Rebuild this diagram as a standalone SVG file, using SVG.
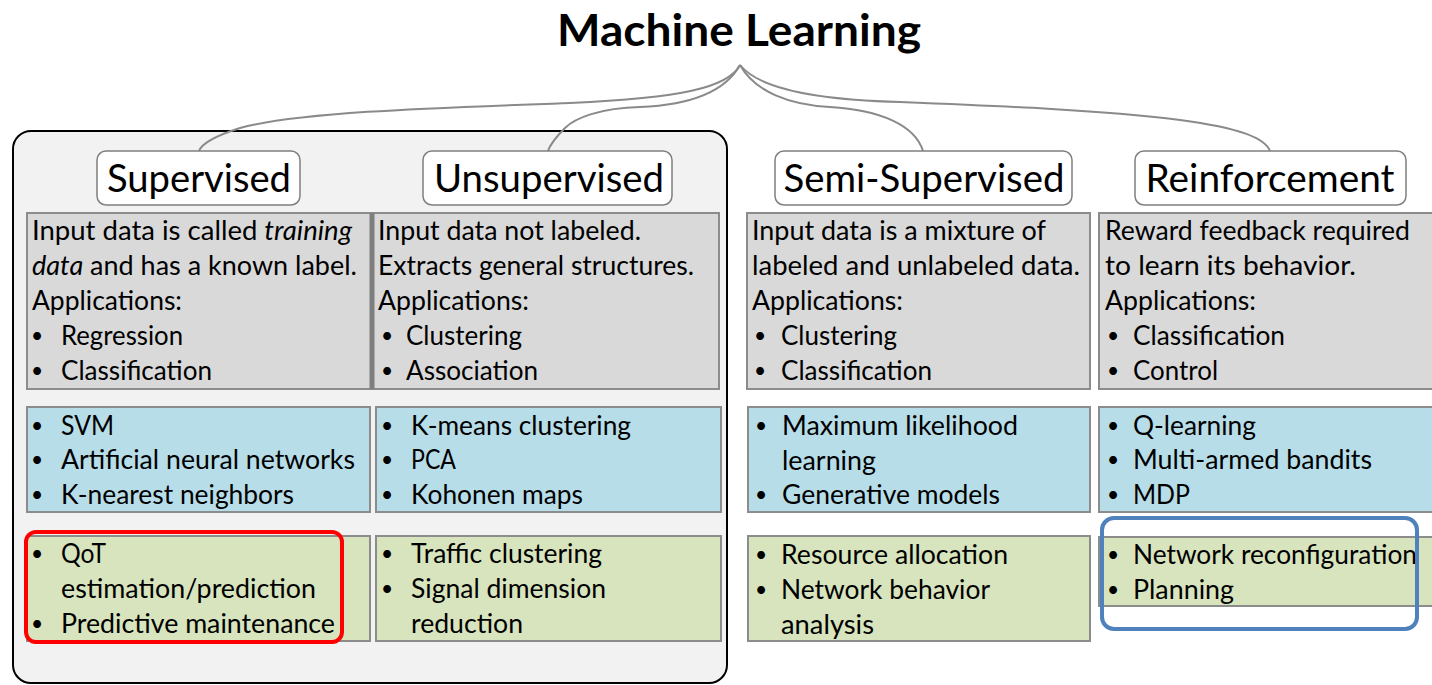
<svg xmlns="http://www.w3.org/2000/svg" width="1432" height="685" viewBox="0 0 1432 685">
<style>
text{font-family:Lato,"Open Sans","Liberation Sans",sans-serif;fill:#000}
.title{font-size:44px;font-weight:bold}
.cat{font-size:38px}
.t{font-size:27px}
.b{font-size:21px}
.catbox{fill:#fff;stroke:#7f7f7f;stroke-width:1.5}
.gray{fill:#d9d9d9;stroke:#8c8c8c;stroke-width:2}
.blue{fill:#b7dde8;stroke:#8c8c8c;stroke-width:2}
.green{fill:#d7e4bd;stroke:#8c8c8c;stroke-width:2}
.conn{fill:none;stroke:#8a8a8a;stroke-width:2}
</style>
<rect width="1432" height="685" fill="#fff"/>
<g id="container">
<rect x="13" y="131" width="714" height="552" rx="18" fill="#f2f2f2" stroke="#000" stroke-width="2"/>
</g>
<g id="connectors">
<path class="conn" d="M740,65 C728,88 680,98 570,103 C430,108 300,112 240,128 C215,136 202,143 199,151"/>
<path class="conn" d="M740,65 C725,92 690,105 640,107 C600,108 575,118 565,128 C555,138 550,145 548,151"/>
<path class="conn" d="M740,65 C755,92 790,105 830,107 C880,110 915,125 923,151"/>
<path class="conn" d="M740,65 C760,90 820,100 900,102 C1000,106 1100,110 1180,120 C1240,128 1265,138 1270,151"/>
</g>
<g id="title">
<text class="title" x="739" y="46" text-anchor="middle" textLength="364" lengthAdjust="spacingAndGlyphs">Machine Learning</text>
</g>
<g id="supervised">
<rect class="catbox" x="97" y="151" width="203" height="54" rx="9"/>
<text class="cat" x="199" y="192" text-anchor="middle" textLength="184" lengthAdjust="spacingAndGlyphs">Supervised</text>
</g>
<g id="unsupervised">
<rect class="catbox" x="423" y="151" width="249" height="54" rx="9"/>
<text class="cat" x="549" y="192" text-anchor="middle" textLength="230" lengthAdjust="spacingAndGlyphs">Unsupervised</text>
</g>
<g id="semi-supervised">
<rect class="catbox" x="775" y="151" width="297" height="54" rx="9"/>
<text class="cat" x="924" y="192" text-anchor="middle" textLength="281" lengthAdjust="spacingAndGlyphs">Semi-Supervised</text>
</g>
<g id="reinforcement">
<rect class="catbox" x="1135" y="151" width="271" height="54" rx="9"/>
<text class="cat" x="1270" y="192" text-anchor="middle" textLength="249" lengthAdjust="spacingAndGlyphs">Reinforcement</text>
</g>

<g id="sup-desc">
<rect class="gray" x="27" y="213" width="344" height="176"/>
<text class="t" x="32" y="240" textLength="320" lengthAdjust="spacingAndGlyphs">Input data is called <tspan font-style="italic">training</tspan></text>
<text class="t" x="32" y="275" textLength="325" lengthAdjust="spacingAndGlyphs"><tspan font-style="italic">data</tspan> and has a known label.</text>
<text class="t" x="32" y="310" textLength="150" lengthAdjust="spacingAndGlyphs">Applications:</text>
<text class="b" x="31" y="343">•</text><text class="t" x="61" y="345" textLength="122" lengthAdjust="spacingAndGlyphs">Regression</text>
<text class="b" x="31" y="378">•</text><text class="t" x="61" y="380" textLength="151" lengthAdjust="spacingAndGlyphs">Classification</text>
</g>
<g id="unsup-desc">
<rect class="gray" x="373" y="213" width="346" height="176"/>
<line x1="372" y1="213" x2="372" y2="389" stroke="#7f7f7f" stroke-width="5"/>
<text class="t" x="378" y="240" textLength="263" lengthAdjust="spacingAndGlyphs">Input data not labeled.</text>
<text class="t" x="378" y="275" textLength="316" lengthAdjust="spacingAndGlyphs">Extracts general structures.</text>
<text class="t" x="378" y="310" textLength="151" lengthAdjust="spacingAndGlyphs">Applications:</text>
<text class="b" x="381" y="343">•</text><text class="t" x="406" y="345" textLength="116" lengthAdjust="spacingAndGlyphs">Clustering</text>
<text class="b" x="381" y="378">•</text><text class="t" x="406" y="380" textLength="132" lengthAdjust="spacingAndGlyphs">Association</text>
</g>
<g id="semi-desc">
<rect class="gray" x="747" y="213" width="343" height="176"/>
<text class="t" x="752" y="240" textLength="294" lengthAdjust="spacingAndGlyphs">Input data is a mixture of</text>
<text class="t" x="752" y="275" textLength="328" lengthAdjust="spacingAndGlyphs">labeled and unlabeled data.</text>
<text class="t" x="752" y="310" textLength="151" lengthAdjust="spacingAndGlyphs">Applications:</text>
<text class="b" x="754" y="343">•</text><text class="t" x="781" y="345" textLength="116" lengthAdjust="spacingAndGlyphs">Clustering</text>
<text class="b" x="754" y="378">•</text><text class="t" x="781" y="380" textLength="151" lengthAdjust="spacingAndGlyphs">Classification</text>
</g>
<g id="reinf-desc">
<rect class="gray" x="1099" y="213" width="345" height="176"/>
<text class="t" x="1105" y="240" textLength="305" lengthAdjust="spacingAndGlyphs">Reward feedback required</text>
<text class="t" x="1105" y="275" textLength="251" lengthAdjust="spacingAndGlyphs">to learn its behavior.</text>
<text class="t" x="1105" y="310" textLength="151" lengthAdjust="spacingAndGlyphs">Applications:</text>
<text class="b" x="1107" y="343">•</text><text class="t" x="1133" y="345" textLength="152" lengthAdjust="spacingAndGlyphs">Classification</text>
<text class="b" x="1107" y="378">•</text><text class="t" x="1133" y="380" textLength="85" lengthAdjust="spacingAndGlyphs">Control</text>
</g>

<g id="sup-algos">
<rect class="blue" x="27" y="407" width="343" height="105"/>
<text class="b" x="31" y="433">•</text><text class="t" x="61" y="435" textLength="53" lengthAdjust="spacingAndGlyphs">SVM</text>
<text class="b" x="31" y="467">•</text><text class="t" x="61" y="469" textLength="294" lengthAdjust="spacingAndGlyphs">Artificial neural networks</text>
<text class="b" x="31" y="502">•</text><text class="t" x="61" y="504" textLength="233" lengthAdjust="spacingAndGlyphs">K-nearest neighbors</text>
</g>
<g id="unsup-algos">
<rect class="blue" x="376" y="407" width="345" height="105"/>
<text class="b" x="381" y="433">•</text><text class="t" x="411" y="435" textLength="220" lengthAdjust="spacingAndGlyphs">K-means clustering</text>
<text class="b" x="381" y="467">•</text><text class="t" x="411" y="469" textLength="45" lengthAdjust="spacingAndGlyphs">PCA</text>
<text class="b" x="381" y="502">•</text><text class="t" x="411" y="504" textLength="172" lengthAdjust="spacingAndGlyphs">Kohonen maps</text>
</g>
<g id="semi-algos">
<rect class="blue" x="748" y="407" width="342" height="105"/>
<text class="b" x="755" y="433">•</text><text class="t" x="782" y="435" textLength="236" lengthAdjust="spacingAndGlyphs">Maximum likelihood</text>
<text class="t" x="782" y="470" textLength="94" lengthAdjust="spacingAndGlyphs">learning</text>
<text class="b" x="755" y="502">•</text><text class="t" x="782" y="504" textLength="218" lengthAdjust="spacingAndGlyphs">Generative models</text>
</g>
<g id="reinf-algos">
<rect class="blue" x="1099" y="407" width="345" height="105"/>
<text class="b" x="1107" y="433">•</text><text class="t" x="1133" y="435" textLength="123" lengthAdjust="spacingAndGlyphs">Q-learning</text>
<text class="b" x="1107" y="467">•</text><text class="t" x="1133" y="469" textLength="239" lengthAdjust="spacingAndGlyphs">Multi-armed bandits</text>
<text class="b" x="1107" y="502">•</text><text class="t" x="1133" y="504" textLength="57" lengthAdjust="spacingAndGlyphs">MDP</text>
</g>

<g id="sup-uses">
<rect class="green" x="27" y="536" width="343" height="105"/>
<text class="b" x="31" y="561">•</text><text class="t" x="61" y="563" textLength="45" lengthAdjust="spacingAndGlyphs">QoT</text>
<text class="t" x="61" y="598" textLength="255" lengthAdjust="spacingAndGlyphs">estimation/prediction</text>
<text class="b" x="31" y="631">•</text><text class="t" x="61" y="633" textLength="274" lengthAdjust="spacingAndGlyphs">Predictive maintenance</text>
</g>
<g id="unsup-uses">
<rect class="green" x="376" y="536" width="345" height="105"/>
<text class="b" x="381" y="561">•</text><text class="t" x="411" y="563" textLength="191" lengthAdjust="spacingAndGlyphs">Traffic clustering</text>
<text class="b" x="381" y="596">•</text><text class="t" x="411" y="598" textLength="195" lengthAdjust="spacingAndGlyphs">Signal dimension</text>
<text class="t" x="411" y="633" textLength="112" lengthAdjust="spacingAndGlyphs">reduction</text>
</g>
<g id="semi-uses">
<rect class="green" x="748" y="536" width="342" height="105"/>
<text class="b" x="755" y="562">•</text><text class="t" x="781" y="564" textLength="227" lengthAdjust="spacingAndGlyphs">Resource allocation</text>
<text class="b" x="755" y="597">•</text><text class="t" x="781" y="599" textLength="209" lengthAdjust="spacingAndGlyphs">Network behavior</text>
<text class="t" x="781" y="634" textLength="93" lengthAdjust="spacingAndGlyphs">analysis</text>
</g>
<g id="reinf-uses">
<rect class="green" x="1099" y="537" width="345" height="69"/>
<text class="b" x="1107" y="562">•</text><text class="t" x="1133" y="564" textLength="284" lengthAdjust="spacingAndGlyphs">Network reconfiguration</text>
<text class="b" x="1107" y="597">•</text><text class="t" x="1133" y="599" textLength="101" lengthAdjust="spacingAndGlyphs">Planning</text>
</g>

<g id="highlight-red">
<rect x="26" y="532" width="316" height="110" rx="10" fill="none" stroke="#ff0000" stroke-width="4"/>
</g>
<g id="highlight-blue">
<rect x="1102" y="518" width="315" height="111" rx="12" fill="none" stroke="#4f81bd" stroke-width="4"/>
</g>
</svg>
